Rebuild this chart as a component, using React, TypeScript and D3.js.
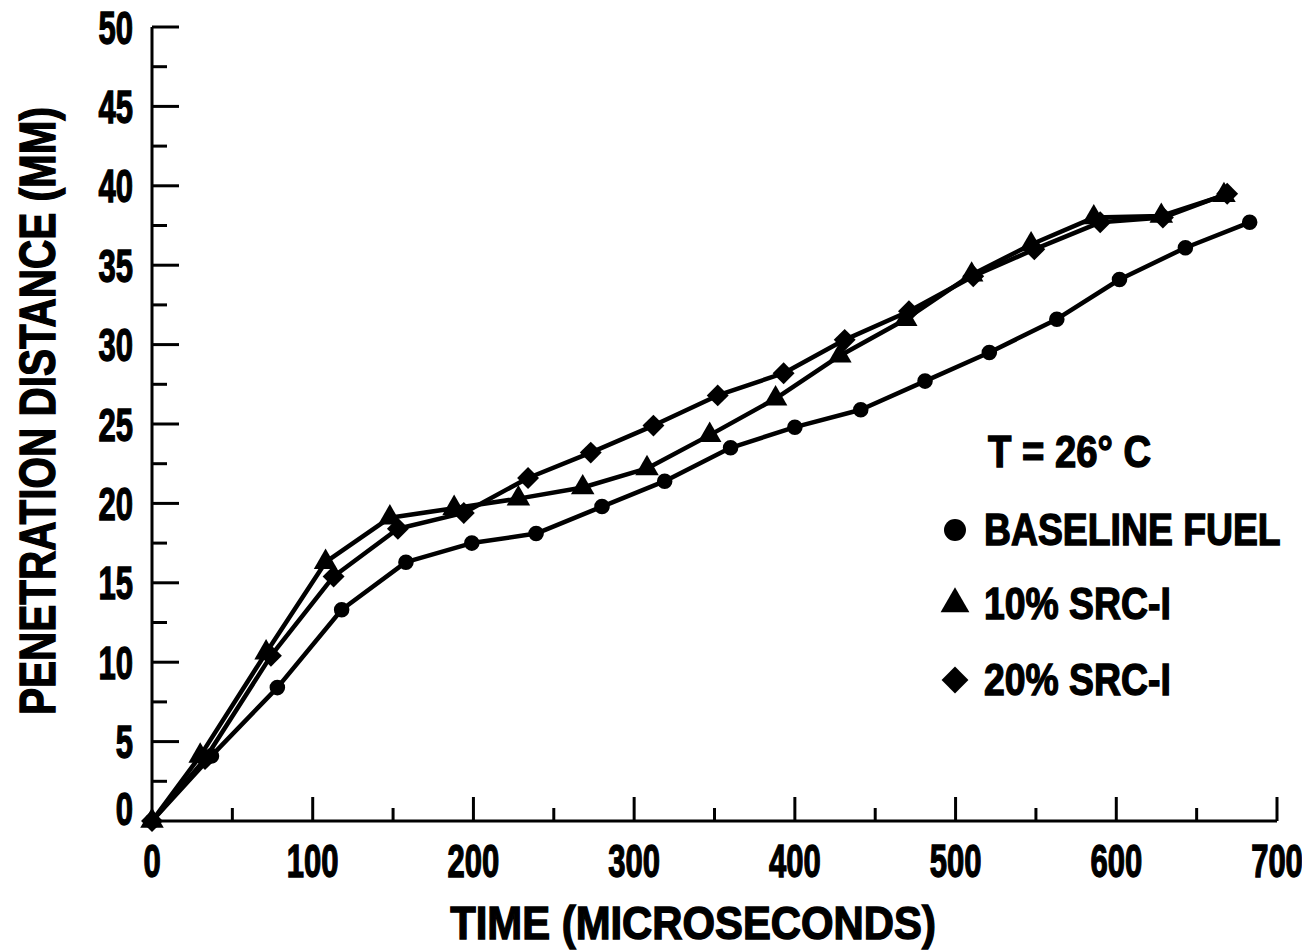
import React from 'react';
import * as d3 from 'd3';

// chart frame
const width = 1302, height = 952;
const plot = { left: 152, right: 1277, top: 27, bottom: 821 };

// baseline fuel (circles)
const baseT = [0, 37, 78, 118, 158, 199, 239, 280, 319, 360, 400, 441, 481, 521, 563, 602, 643, 683];
const baseV = [0, 4.1, 8.4, 13.3, 16.3, 17.5, 18.1, 19.8, 21.4, 23.5, 24.8, 25.9, 27.7, 29.5, 31.6, 34.1, 36.1, 37.7];

// 10% SRC-I (triangles)
const src10T = [0, 30, 71, 108, 148, 188, 228, 268, 308, 347, 388, 428, 469, 510, 547, 586, 628, 667];
const src10V = [0, 4.1, 10.6, 16.3, 19.1, 19.7, 20.3, 21.0, 22.2, 24.3, 26.6, 29.3, 31.6, 34.4, 36.3, 38.0, 38.1, 39.4];

// 20% SRC-I (diamonds)
const src20T = [0, 33, 74, 113, 153, 194, 234, 273, 312, 352, 393, 431, 471, 511, 549, 590, 629, 669];
const src20V = [0, 3.9, 10.4, 15.4, 18.4, 19.4, 21.6, 23.2, 24.9, 26.8, 28.2, 30.3, 32.1, 34.3, 36.0, 37.7, 38.0, 39.5];

const xTicks = [0, 100, 200, 300, 400, 500, 600, 700];
const xMinor = [50, 150, 250, 350, 450, 550, 650];
const yTicks = [0, 5, 10, 15, 20, 25, 30, 35, 40, 45, 50];
const yMinor = [2.5, 7.5, 12.5, 17.5, 22.5, 27.5, 32.5, 37.5, 42.5, 47.5];

const legendTitle = 'T = 26° C';
const legendLabels = ['BASELINE FUEL', '10% SRC-I', '20% SRC-I'];

const font = '"Liberation Sans", Arial, sans-serif';

export default function App() {
    const x = d3.scaleLinear().domain([0, 700]).range([plot.left, plot.right]);
    const y = d3.scaleLinear().domain([0, 50]).range([plot.bottom, plot.top]);

    const line = d3.line<[number, number]>()
        .x(d => x(d[0]))
        .y(d => y(d[1]));

    const series = [
        { t: baseT, v: baseV, shape: 'circle' },
        { t: src10T, v: src10V, shape: 'triangle' },
        { t: src20T, v: src20V, shape: 'diamond' },
    ];

    // marker path for each shape, size in px^2
    const marker = (shape: string, size: number) => {
        if (shape === 'circle') return d3.symbol().type(d3.symbolCircle).size(size)();
        if (shape === 'triangle') return d3.symbol().type(d3.symbolTriangle).size(size)();
        return d3.symbol().type(d3.symbolSquare).size(size)();
    };
    const rot = (shape: string) => (shape === 'diamond' ? ' rotate(45)' : '');

    const textStyle = { fontFamily: font, fontWeight: 'bold' as const, fill: '#000', stroke: '#000', strokeWidth: 1.4 };

    return (
        <svg width={width} height={height} style={{ position: 'absolute', left: 0, top: 0 }}>
            <rect width={width} height={height} fill="#fff" />

            {/* axes */}
            <line x1={plot.left} x2={plot.left} y1={plot.bottom + 1} y2={plot.top} stroke="#000" strokeWidth={3} />
            <line x1={plot.left} x2={plot.right} y1={plot.bottom} y2={plot.bottom} stroke="#000" strokeWidth={3} />
            {yTicks.filter(v => v > 0).map(v => (
                <line key={'ym' + v} x1={plot.left} x2={plot.left + 27} y1={y(v)} y2={y(v)} stroke="#000" strokeWidth={3} />
            ))}
            {yMinor.map(v => (
                <line key={'yn' + v} x1={plot.left} x2={plot.left + 15} y1={y(v)} y2={y(v)} stroke="#000" strokeWidth={3} />
            ))}
            {xTicks.filter(v => v > 0).map(v => (
                <line key={'xm' + v} x1={x(v)} x2={x(v)} y1={plot.bottom} y2={plot.bottom - 24} stroke="#000" strokeWidth={3} />
            ))}
            {xMinor.map(v => (
                <line key={'xn' + v} x1={x(v)} x2={x(v)} y1={plot.bottom} y2={plot.bottom - 13} stroke="#000" strokeWidth={3} />
            ))}

            {/* tick labels */}
            {yTicks.map(v => (
                <text key={'yl' + v} textAnchor="end" fontSize={47} style={textStyle}
                    transform={`translate(133, ${Math.min(y(v), 808) + 16.5}) scale(0.66,1)`}>{v}</text>
            ))}
            {xTicks.map(v => (
                <text key={'xl' + v} textAnchor="middle" fontSize={47} style={textStyle}
                    transform={`translate(${x(v)}, 877) scale(0.66,1)`}>{v}</text>
            ))}

            {/* axis titles */}
            <text textAnchor="middle" fontSize={47} style={textStyle}
                transform="translate(693, 939) scale(0.89,1)">TIME (MICROSECONDS)</text>
            <text textAnchor="middle" fontSize={50} style={textStyle}
                transform="translate(55, 411) rotate(-90) scale(0.81,1)">PENETRATION DISTANCE (MM)</text>

            {/* data */}
            {series.map(s => (
                <g key={s.shape}>
                    <path d={line(s.t.map((t, i) => [t, s.v[i]] as [number, number])) || ''}
                        fill="none" stroke="#000" strokeWidth={4.5} strokeLinejoin="round" />
                    {s.t.map((t, i) => (
                        <path key={i} d={marker(s.shape, s.shape === 'circle' ? 190 : 240) || ''}
                            transform={`translate(${x(t)},${y(s.v[i])})${rot(s.shape)}`} fill="#000" />
                    ))}
                </g>
            ))}

            {/* legend */}
            <text x={0} y={0} fontSize={45} style={textStyle}
                transform="translate(988, 467) scale(0.85,1)">{legendTitle}</text>
            {legendLabels.map((label, i) => {
                const base = [545, 619, 695][i];
                const shape = series[i].shape;
                const size = shape === 'circle' ? 380 : 360;
                return (
                    <g key={label}>
                        <path d={marker(shape, size) || ''} fill="#000"
                            transform={`translate(955, ${base - 15})${rot(shape)}`} />
                        <text fontSize={45} style={textStyle}
                            transform={`translate(984, ${base}) scale(0.83,1)`}>{label}</text>
                    </g>
                );
            })}
        </svg>
    );
}
